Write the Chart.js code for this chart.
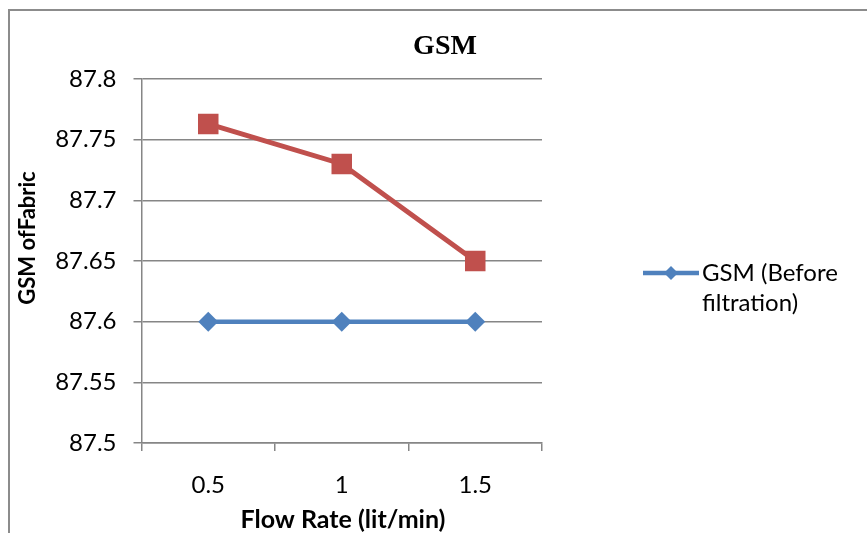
<!DOCTYPE html>
<html>
<head>
<meta charset="utf-8">
<script src="https://cdn.jsdelivr.net/npm/chart.js@4/dist/chart.umd.min.js"></script>
<style>
  html, body { margin: 0; padding: 0; background: #fff; }
  #wrap { width: 867px; height: 533px; position: relative; }
</style>
</head>
<body>
<div id="wrap"><canvas id="gsmChart"></canvas></div>
<script>
// flow rate categories and GSM readings
var flowRates = ['0.5', '1', '1.5'];
var gsmBefore = [87.6, 87.6, 87.6];
var gsmAfter = [87.763, 87.73, 87.65];
var yTicks = [87.5, 87.55, 87.6, 87.65, 87.7, 87.75, 87.8];

var blue = '#4F81BD';
var red = '#C0504D';
var font = 'Lato';

// frame, title, axis titles and the one-entry legend
var extras = {
   id: 'extras',
   beforeDraw: function(chart) {
      var ctx = chart.ctx;
      ctx.save();
      ctx.strokeStyle = '#8c8c8c';
      ctx.lineWidth = 2;
      ctx.beginPath();
      ctx.moveTo(9, 533);
      ctx.lineTo(9, 10);
      ctx.lineTo(867, 10);
      ctx.stroke();
      ctx.restore();
   },
   afterDraw: function(chart) {
      var ctx = chart.ctx;
      ctx.save();
      ctx.fillStyle = '#000';
      ctx.textAlign = 'center';
      ctx.textBaseline = 'middle';
      ctx.font = 'bold 28px "Liberation Serif"';
      ctx.fillText('GSM', 445, 47);

      ctx.font = 'bold 25px ' + font;
      ctx.fillText('Flow Rate (lit/min)', 343, 520);
      ctx.font = 'bold 22px ' + font;
      ctx.translate(28, 238);
      ctx.rotate(-Math.PI / 2);
      ctx.fillText('GSM ofFabric', 0, 0);
      ctx.restore();

      // legend
      ctx.save();
      var ly = 273;
      ctx.strokeStyle = blue;
      ctx.lineWidth = 4.5;
      ctx.beginPath();
      ctx.moveTo(643, ly);
      ctx.lineTo(699, ly);
      ctx.stroke();
      ctx.fillStyle = blue;
      ctx.beginPath();
      ctx.moveTo(671 - 7, ly);
      ctx.lineTo(671, ly - 7);
      ctx.lineTo(671 + 7, ly);
      ctx.lineTo(671, ly + 7);
      ctx.closePath();
      ctx.fill();
      ctx.fillStyle = '#000';
      ctx.font = '24px ' + font;
      ctx.textAlign = 'left';
      ctx.textBaseline = 'middle';
      ctx.fillText('GSM (Before', 702, ly);
      ctx.fillText('filtration)', 702, ly + 30);
      ctx.restore();
   }
};

var ctx = document.getElementById('gsmChart').getContext('2d');
var config = {
   type: 'line',
   data: {
      labels: flowRates,
      datasets: [{
         label: 'GSM (Before filtration)',
         data: gsmBefore,
         borderColor: blue,
         backgroundColor: blue,
         borderWidth: 4.5,
         pointStyle: 'rectRot',
         pointRadius: 10,
         pointHoverRadius: 10,
         pointBorderWidth: 0,
         tension: 0
      }, {
         label: 'GSM (After filtration)',
         data: gsmAfter,
         borderColor: red,
         backgroundColor: red,
         borderWidth: 5,
         pointStyle: 'rect',
         pointRadius: 14.5,
         pointHoverRadius: 14.5,
         pointBorderWidth: 0,
         tension: 0
      }]
   },
   options: {
      responsive: false,
      animation: false,
      layout: { padding: { left: 0, top: 79, right: 325, bottom: 0 } },
      plugins: {
         legend: { display: false },
         title: { display: false },
         tooltip: { enabled: false }
      },
      scales: {
         x: {
            offset: true,
            grid: {
               offset: true,
               drawOnChartArea: false,
               drawTicks: true,
               tickLength: 8,
               color: '#868686',
               lineWidth: 1.5
            },
            border: { color: '#868686', width: 1.5 },
            ticks: {
               color: '#000',
               font: { family: font, size: 24 },
               padding: 20
            },
            afterFit: function(scale) { scale.height = 90; }
         },
         y: {
            min: 87.5,
            max: 87.8,
            afterBuildTicks: function(scale) {
               scale.ticks = yTicks.map(function(v) { return { value: v }; });
            },
            grid: {
               color: '#868686',
               lineWidth: 1.5,
               tickLength: 8
            },
            border: { color: '#868686', width: 1.5 },
            ticks: {
               color: '#000',
               font: { family: font, size: 24 },
               padding: 17,
               callback: function(v) { return String(Number(v.toFixed(2))); }
            },
            afterFit: function(scale) { scale.width = 141.5; }
         }
      }
   },
   plugins: [extras]
};

var canvas = document.getElementById('gsmChart');
canvas.width = 867;
canvas.height = 533;
var chart = new Chart(ctx, config);
</script>
</body>
</html>
